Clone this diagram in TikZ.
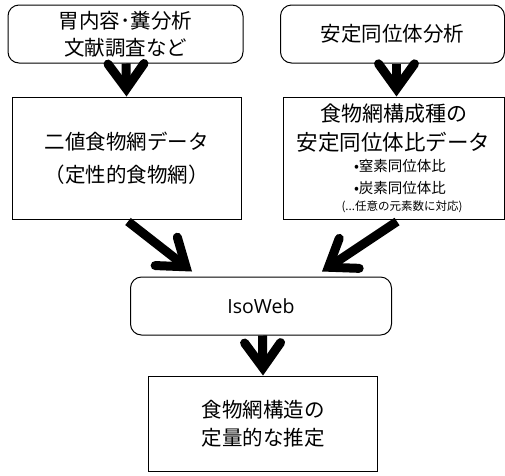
\documentclass[tikz,border=0pt]{standalone}
\usepackage{fontspec}
\setmainfont{Noto Sans CJK JP}
\newfontfamily\latinfont{Open Sans}
\usetikzlibrary{arrows.meta,calc}
\tikzset{
  rbox/.style={draw, line width=1pt, rounded corners=11pt, inner sep=0pt, align=center},
  sbox/.style={draw, line width=1pt, inner sep=0pt, align=center},
  txt/.style={inner sep=0pt, anchor=center},
  bigarrow/.style={line width=9pt, -{Straight Barb[length=25pt,width=36pt,line width=9pt,line cap=round,line join=miter]}},
  big/.style={font=\fontsize{20.5pt}{27pt}\selectfont},
}
\begin{document}
\begin{tikzpicture}[x=1pt,y=-1pt]
\useasboundingbox (0,0) rectangle (505,475);
\node[rbox, big, minimum width=235pt, minimum height=58pt] (a) at (125.5,34) {胃内容･糞分析\\文献調査など};
\node[rbox, big, minimum width=224pt, minimum height=58pt] (b) at (392.5,34) {安定同位体分析};
\node[sbox, minimum width=229pt, minimum height=122pt, font=\fontsize{20.5pt}{33pt}\selectfont] (c) at (126.5,158)
  {二値食物網データ\\（定性的食物網）};
\node[sbox, minimum width=221pt, minimum height=122pt] (d) at (393.5,158) {};
\node[txt, font=\fontsize{21pt}{26pt}\selectfont] (d1) at (393.5,114) {食物網構成種の};
\node[txt, font=\fontsize{21.5pt}{26pt}\selectfont] (d2) at (393.5,142) {安定同位体比データ};
\node[txt, font=\fontsize{14.5pt}{18pt}\selectfont] (d3) at (400,166) {•窒素同位体比};
\node[txt, font=\fontsize{14.5pt}{18pt}\selectfont] (d4) at (400,187.5) {•炭素同位体比};
\node[txt, font=\fontsize{11.5pt}{14pt}\selectfont] (d5) at (402,206.5) {(...任意の元素数に対応)};
\node[rbox, minimum width=261pt, minimum height=58pt, font=\latinfont\fontsize{19.5pt}{22pt}\selectfont] (e) at (261,306) {IsoWeb};
\node[sbox, big, minimum width=229pt, minimum height=95pt, font=\fontsize{20.5pt}{28pt}\selectfont] (f) at (263,423.5) {食物網構造の\\定量的な推定};
\draw[bigarrow] ($(a.south)+(0.5,0)$) -- ($(c.north)$);
\draw[bigarrow] ($(b.south)+(4,0)$) -- ($(d.north)+(3,0)$);
\draw[bigarrow] ($(c.south)+(1.5,2)$) -- ($(e.north)+(-69,-5)$);
\draw[bigarrow] ($(d.south)+(3.5,2)$) -- ($(e.north)+(61,-5)$);
\draw[bigarrow] ($(e.south)+(1.5,0)$) -- (f.north);
\end{tikzpicture}
\end{document}
